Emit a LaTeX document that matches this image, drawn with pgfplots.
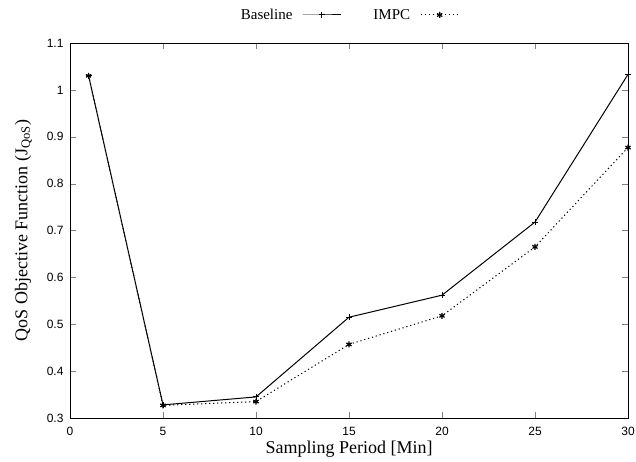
\documentclass[border=0pt]{standalone}
\usepackage{fontspec}
\setmainfont{Liberation Serif}
\newfontfamily\tickfont{Liberation Sans}
\usepackage{pgfplots}
\pgfplotsset{compat=1.18}
\begin{document}
\begin{tikzpicture}
\begin{axis}[
  scale only axis,
  width=558pt, height=375pt,
  xmin=0, xmax=30, ymin=0.3, ymax=1.1,
  xtick={0,5,...,30},
  ytick={0.3,0.4,...,1.1},
  yticklabels={0.3,0.4,0.5,0.6,0.7,0.8,0.9,1,1.1},
  tick align=inside,
  major tick length=6pt,
  /pgf/number format/assume math mode=true,
  tick label style={font=\tickfont\fontsize{12}{12}\selectfont},
  xticklabel style={yshift=-6pt},
  yticklabel style={xshift=-3pt},
  xlabel={Sampling Period [Min]},
  ylabel={QoS Objective Function (J\textsubscript{QoS})},
  label style={font=\fontsize{18}{18}\selectfont},
  xlabel style={yshift=2pt},
  ylabel style={yshift=8pt},
  axis line style={line width=0.9pt},
  legend columns=2,
  legend plot pos=right,
  legend style={draw=none, fill=none, at={(0.5,1)}, anchor=center, yshift=28pt,
    font=\fontsize{15}{15}\selectfont,
    /tikz/every odd column/.append style={column sep=8pt},
    /tikz/every even column/.append style={column sep=30pt}},
  legend image code/.code={\draw[mark repeat=2,mark phase=2,#1] plot coordinates {(0pt,0pt) (19pt,0pt) (38pt,0pt)};},
  every axis plot/.append style={line width=1pt, black},
]
\coordinate (bl) at (rel axis cs:0,0);
\coordinate (tr) at (rel axis cs:1,1);
\addplot[mark=+, mark size=3pt, mark options={solid}] coordinates {
 (1,1.030) (5,0.328) (10,0.345) (15,0.515) (20,0.562) (25,0.718) (30,1.033)};
\addlegendentry{Baseline}
\addplot[dash pattern=on 1.2pt off 2.8pt, mark=asterisk, mark size=3pt, mark options={solid, line width=1.2pt}] coordinates {
 (1,1.030) (5,0.327) (10,0.335) (15,0.457) (20,0.518) (25,0.665) (30,0.877)};
\addlegendentry{IMPC}
\end{axis}
\pgfresetboundingbox
\path ([shift={(-70pt,-43pt)}]bl) rectangle ([shift={(8pt,43pt)}]tr);
\end{tikzpicture}
\end{document}
